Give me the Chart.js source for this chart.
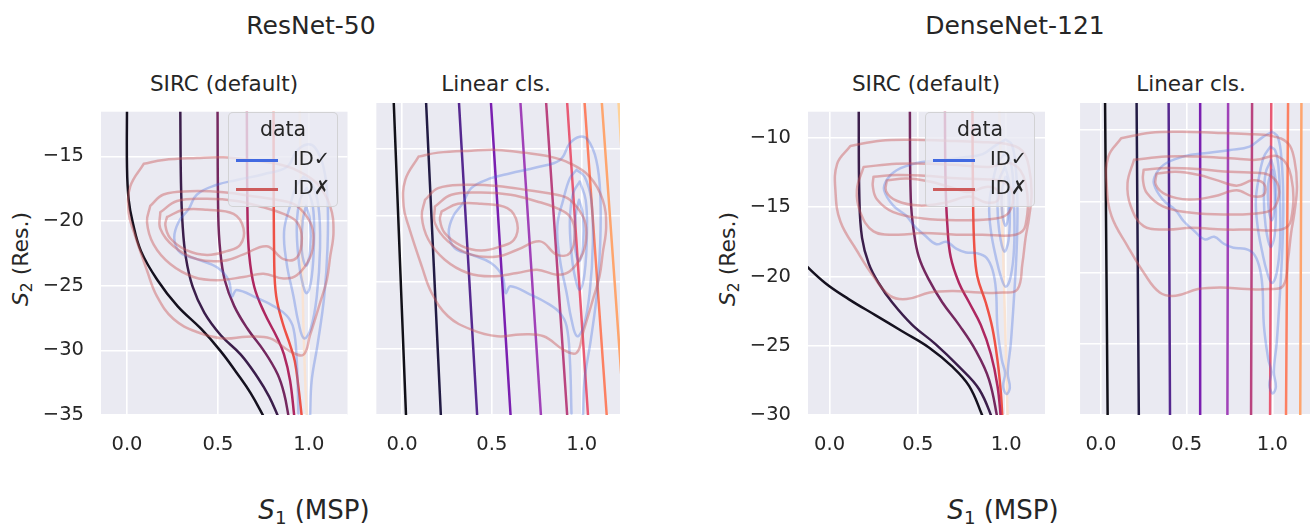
<!DOCTYPE html>
<html>
<head>
<meta charset="utf-8">
<script src="https://cdn.jsdelivr.net/npm/chart.js@4.4.1/dist/chart.umd.min.js"></script>
<style>
  body { margin: 0; width: 1312px; height: 526px; position: relative; overflow: hidden; background: #fff;
         font-family: "DejaVu Sans", sans-serif; color: #262626; }
  canvas { position: absolute; }
  .txt { position: absolute; white-space: nowrap; transform: translate(-50%, -50%); }
  .ylab { transform: translate(-50%, -50%) rotate(-90deg); }
  .legend { position: absolute; width: 110px; height: 95px; box-sizing: border-box;
            background: rgba(234, 234, 242, 0.8); border: 1px solid rgba(204, 204, 204, 0.8); border-radius: 5px; }
  .legend div { position: absolute; white-space: nowrap; }
  .legend .ttl { left: 0; width: 100%; top: 4px; text-align: center; font-size: 20.5px; }
  .legend .ln { left: 7px; width: 42px; height: 2.5px; }
  .legend .lb { left: 64px; font-size: 19.5px; }
  sub { font-size: 0.7em; vertical-align: -0.3em; line-height: 0; }
</style>
</head>
<body>

<div class="txt" style="left:311px;top:25px;font-size:25px">ResNet-50</div>
<div class="txt" style="left:1015px;top:25px;font-size:25px">DenseNet-121</div>

<div class="txt" style="left:224px;top:83px;font-size:21.5px">SIRC (default)</div>
<div class="txt" style="left:496px;top:83px;font-size:21.5px">Linear cls.</div>
<div class="txt" style="left:926px;top:83px;font-size:21.5px">SIRC (default)</div>
<div class="txt" style="left:1191px;top:83px;font-size:21.5px">Linear cls.</div>

<div class="txt ylab" style="left:20px;top:259px;font-size:22px"><i>S</i><sub>2</sub> (Res.)</div>
<div class="txt ylab" style="left:727px;top:259px;font-size:22px"><i>S</i><sub>2</sub> (Res.)</div>

<div class="txt" style="left:314px;top:510px;font-size:26px"><i>S</i><sub>1</sub> (MSP)</div>
<div class="txt" style="left:1003px;top:510px;font-size:26px"><i>S</i><sub>1</sub> (MSP)</div>

<canvas id="p1"></canvas>
<canvas id="p2"></canvas>
<canvas id="p3"></canvas>
<canvas id="p4"></canvas>

<div class="legend" style="left:228px;top:112px">
  <div class="ttl">data</div>
  <div class="ln" style="top:46px;background:#4169e1"></div><div class="lb" style="top:34px">ID✓</div>
  <div class="ln" style="top:75px;background:#cd5c5c"></div><div class="lb" style="top:63px">ID✗</div>
</div>
<div class="legend" style="left:925px;top:112px">
  <div class="ttl">data</div>
  <div class="ln" style="top:46px;background:#4169e1"></div><div class="lb" style="top:34px">ID✓</div>
  <div class="ln" style="top:75px;background:#cd5c5c"></div><div class="lb" style="top:63px">ID✗</div>
</div>

<script>
// axis ranges and ticks
const resRangeX = [-0.143, 1.213];
const resRangeY = [-35, -11.55];
const denseRangeX = [-0.122, 1.22];
const denseRangeY = [-30, -8.1];
const ticksX = [0, 0.5, 1.0];
const resTicksY = [-35, -30, -25, -20, -15];
const denseTicksY = [-30, -25, -20, -15, -10];

// KDE contours of (S1, S2), ResNet-50: correct ID (blue) and misclassified ID (red)
const resCorrect = [
  [[0.943,-34.88],[0.934,-30.83],[0.916,-28.33],[0.879,-27.33],[0.806,-26.58],[0.714,-25.95],[0.604,-25.33],
   [0.577,-25.83],[0.559,-24.58],[0.495,-23.58],[0.385,-22.95],[0.293,-22.45],[0.26,-21.33],[0.284,-20.08],
   [0.339,-19.08],[0.385,-17.95],[0.495,-17.2],[0.604,-16.83],[0.751,-16.38],[0.879,-15.83],[0.934,-14.58],
   [0.989,-14.08],[1.035,-14.33],[1.081,-15.83],[1.103,-18.33],[1.103,-22.08],[1.085,-25.83],[1.048,-29.58],
   [1.016,-32.33],[1.007,-35.2]],
  [[0.971,-16.58],[0.934,-17.2],[0.897,-18.83],[0.864,-20.83],[0.879,-23.33],[0.916,-25.83],[0.943,-27.83],
   [0.974,-29.08],[1.011,-28.33],[1.044,-25.83],[1.062,-22.08],[1.053,-18.83],[1.016,-17.08],[0.971,-16.58]],
  [[0.989,-17.45],[0.952,-18.33],[0.934,-20.33],[0.943,-22.83],[0.962,-24.58],[0.989,-25.58],[1.016,-24.33],
   [1.029,-21.33],[1.022,-18.83],[0.989,-17.45]],
  [[0.985,-18.83],[0.967,-19.95],[0.962,-22.33],[0.985,-23.45],[1.007,-22.33],[1.007,-19.95],[0.985,-18.83]]
];
const resWrong = [
  [[0.092,-15.58],[0.201,-15.28],[0.385,-15.13],[0.531,-15.08],[0.678,-15.28],[0.824,-15.58],[0.934,-16.08],
   [1.044,-17.08],[1.117,-18.83],[1.136,-20.83],[1.117,-22.83],[1.099,-24.58],[1.062,-26.33],[1.007,-28.83],
   [0.971,-30.33],[0.897,-30.08],[0.788,-29.08],[0.659,-28.95],[0.531,-29.08],[0.385,-28.58],[0.256,-27.58],
   [0.165,-25.83],[0.11,-23.83],[0.037,-20.83],[0.009,-19.33],[0.018,-17.33],[0.092,-15.58]],
  [[0.128,-18.83],[0.201,-17.95],[0.348,-17.7],[0.531,-17.78],[0.714,-18.13],[0.861,-18.45],[0.934,-18.83],
   [1.007,-20.08],[1.026,-21.33],[1.007,-22.83],[0.934,-24.2],[0.861,-24.45],[0.751,-24.08],[0.641,-24.33],
   [0.495,-24.58],[0.366,-24.33],[0.238,-23.33],[0.147,-21.83],[0.11,-20.08],[0.128,-18.83]],
  [[0.183,-19.33],[0.275,-18.45],[0.44,-18.28],[0.604,-18.45],[0.751,-18.95],[0.861,-19.45],[0.934,-20.08],
   [0.962,-21.33],[0.934,-22.83],[0.861,-22.95],[0.769,-21.95],[0.641,-22.58],[0.531,-23.08],[0.385,-22.95],
   [0.256,-21.95],[0.183,-20.58],[0.183,-19.33]],
  [[0.22,-19.7],[0.311,-19.13],[0.44,-19.13],[0.586,-19.45],[0.641,-20.58],[0.623,-21.83],[0.549,-22.33],
   [0.44,-22.63],[0.33,-22.28],[0.238,-21.33],[0.211,-20.33],[0.22,-19.7]]
];

// KDE contours, DenseNet-121
const denseCorrect = [
  [[0.998,-10.12],[0.942,-10.51],[0.867,-11.16],[0.755,-11.4],[0.605,-11.63],[0.493,-11.81],[0.38,-12.33],
   [0.324,-13.02],[0.309,-13.77],[0.361,-14.88],[0.436,-15.63],[0.483,-16.4],[0.539,-17.02],[0.605,-17.67],
   [0.661,-17.49],[0.717,-17.98],[0.773,-18.26],[0.839,-18.33],[0.889,-18.65],[0.923,-19.53],[0.942,-20.93],
   [0.951,-23.72],[0.976,-26.05],[0.994,-26.98],[0.983,-27.91],[1.002,-28.49],[1.021,-28.02],[1.009,-26.98],
   [1.026,-24.88],[1.045,-21.4],[1.06,-17.91],[1.064,-14.88],[1.054,-12.09],[1.032,-10.47],[0.998,-10.12]],
  [[0.989,-11.16],[0.951,-11.86],[0.923,-13.26],[0.904,-14.88],[0.914,-16.74],[0.942,-18.6],[0.97,-20.0],
   [0.998,-20.74],[1.026,-20.0],[1.045,-17.91],[1.045,-14.88],[1.036,-12.56],[1.017,-11.44],[0.989,-11.16]],
  [[0.994,-12.09],[0.961,-13.02],[0.951,-14.88],[0.961,-16.74],[0.989,-18.19],[1.013,-17.44],[1.021,-15.35],
   [1.017,-13.26],[0.994,-12.09]],
  [[0.998,-12.79],[0.976,-13.77],[0.979,-15.58],[0.998,-16.33],[1.013,-15.35],[1.011,-13.77],[0.998,-12.79]]
];
const denseWrong = [
  [[0.118,-10.58],[0.287,-10.19],[0.474,-10.12],[0.661,-10.19],[0.848,-10.28],[0.998,-10.42],[1.092,-10.93],
   [1.129,-12.09],[1.144,-13.95],[1.129,-15.81],[1.11,-17.21],[1.092,-19.07],[1.064,-20.93],[0.979,-21.16],
   [0.848,-21.16],[0.699,-21.05],[0.567,-21.16],[0.436,-21.63],[0.343,-21.4],[0.249,-20.0],[0.155,-18.14],
   [0.062,-16.05],[0.034,-13.95],[0.043,-11.86],[0.118,-10.58]],
  [[0.193,-12.09],[0.38,-11.86],[0.567,-11.86],[0.755,-11.98],[0.904,-12.09],[1.036,-11.86],[1.11,-13.26],
   [1.11,-16.28],[1.054,-16.98],[0.867,-16.98],[0.717,-16.98],[0.53,-16.86],[0.38,-16.98],[0.249,-16.74],
   [0.174,-15.35],[0.155,-13.72],[0.193,-12.09]],
  [[0.249,-12.79],[0.38,-12.67],[0.567,-12.74],[0.717,-12.91],[0.867,-12.98],[0.979,-13.14],[1.036,-13.95],
   [1.017,-15.35],[0.942,-15.81],[0.717,-15.93],[0.53,-15.81],[0.361,-15.35],[0.268,-14.42],[0.245,-13.49],
   [0.249,-12.79]],
  [[0.324,-13.07],[0.436,-12.93],[0.567,-13.14],[0.68,-13.53],[0.792,-13.9],[0.886,-13.53],[0.951,-13.77],
   [0.951,-14.53],[0.886,-14.65],[0.792,-14.23],[0.661,-14.65],[0.511,-14.88],[0.38,-14.53],[0.32,-13.84],
   [0.324,-13.07]]
];

// SIRC decision curves (level sets of the combined score)
const resSirc = [
  [[0,-11],[0,-15.83],[0.009,-18.33],[0.031,-20.08],[0.077,-22.33],[0.168,-24.58],[0.278,-26.58],[0.407,-28.33],
   [0.516,-30.08],[0.608,-31.83],[0.681,-33.33],[0.755,-35.2]],
  [[0.293,-11],[0.297,-17.08],[0.306,-20.33],[0.324,-22.83],[0.361,-25.08],[0.425,-27.08],[0.516,-28.83],
   [0.626,-30.33],[0.718,-32.08],[0.782,-33.58],[0.834,-35.2]],
  [[0.498,-11],[0.502,-19.58],[0.513,-22.33],[0.538,-24.58],[0.59,-26.58],[0.663,-28.33],[0.755,-30.08],
   [0.828,-31.83],[0.864,-33.33],[0.89,-35.2]],
  [[0.659,-11],[0.663,-19.58],[0.672,-22.58],[0.70,-25.08],[0.755,-27.08],[0.828,-29.08],[0.864,-30.33],
   [0.897,-32.33],[0.921,-35.2]],
  [[0.806,-11],[0.81,-23.33],[0.821,-25.83],[0.855,-27.83],[0.897,-29.58],[0.923,-30.83],[0.943,-32.83],[0.962,-35.2]],
  [[0.95,-11],[0.96,-20.8],[0.971,-28.3],[0.983,-33.3],[0.99,-35.2]]
];
const denseSirc = [
  [[-0.16,-18.9],[-0.025,-20.47],[0.108,-21.63],[0.259,-22.79],[0.411,-23.95],[0.5625,-25.12],[0.695,-26.51],[0.79,-27.9],[0.862,-29.95],[0.875,-30.5]],
  [[0.165,-7.5],[0.169,-14.42],[0.184,-17.21],[0.222,-19.07],[0.278,-20.47],[0.354,-21.86],[0.468,-23.49],[0.6,-24.88],[0.733,-26.51],[0.847,-28.14],[0.93,-30.5]],
  [[0.4545,-7.5],[0.46,-14.42],[0.477,-16.74],[0.506,-18.6],[0.5625,-20.23],[0.638,-21.86],[0.733,-23.49],[0.828,-25.35],[0.903,-27.44],[0.955,-30.5]],
  [[0.653,-7.5],[0.657,-13.26],[0.667,-16.28],[0.686,-18.6],[0.733,-20.47],[0.79,-21.86],[0.856,-23.49],[0.913,-25.58],[0.951,-27.91],[0.972,-30.5]],
  [[0.809,-7.5],[0.8125,-14.42],[0.82,-17.91],[0.837,-20.0],[0.884,-21.86],[0.922,-23.72],[0.951,-26.05],[0.97,-28.37],[0.98,-30.5]],
  [[0.96,-7.5],[1.009,-30.5]]
];
const sircColors = ['#15111f', '#3b1e4b', '#74285f', '#ae2760', '#ee5146', '#f9e3d3'];

// linear classifier boundaries: S1 where each line meets the top and bottom of the panel
const resLinTop = [-0.046, 0.134, 0.317, 0.495, 0.659, 0.802, 0.919, 1.016, 1.112, 1.205];
const resLinBottom = [0.022, 0.216, 0.418, 0.604, 0.773, 0.919, 1.035, 1.139, 1.236, 1.31];
const denseLinTop = [0.024, 0.208, 0.395, 0.579, 0.742, 0.882, 0.994, 1.092, 1.17];
const denseLinBottom = [0.039, 0.221, 0.403, 0.579, 0.738, 0.876, 0.987, 1.08, 1.163];
const linColors = ['#111018', '#221b44', '#55288f', '#7a1fb0', '#a041b8', '#b9447f', '#e85a74', '#fc8062', '#fea56e', '#fed29a'];

const redLine = 'rgba(205, 92, 92, 0.45)';
const blueLine = 'rgba(65, 105, 225, 0.33)';

function pts(list) {
  return list.map(p => ({x: p[0], y: p[1]}));
}

function contourSets(correct, wrong) {
  let sets = [];
  for (let c of wrong) sets.push({data: pts(c), borderColor: redLine, order: 0});
  for (let c of correct) sets.push({data: pts(c), borderColor: blueLine, order: 0});
  return sets;
}

function sircSets(curves) {
  return curves.map((c, i) => ({data: pts(c), borderColor: sircColors[i], order: 1}));
}

function linSets(top, bottom, yr) {
  return top.map((t, i) => ({
    data: [{x: t, y: yr[1]}, {x: bottom[i], y: yr[0]}],
    borderColor: linColors[i], order: 1, tension: 0
  }));
}

const bgPlugin = {
  id: 'bg',
  beforeDraw(chart) {
    const a = chart.chartArea, ctx = chart.ctx;
    ctx.save();
    ctx.fillStyle = '#eaeaf2';
    ctx.fillRect(a.left, a.top, a.right - a.left, a.bottom - a.top);
    ctx.restore();
  }
};

// box: plot area (l, t, r, b) and canvas edges (cl, ct, cr, cb) in page pixels
function panel(id, box, xr, yr, yTicks, showY, datasets) {
  const cv = document.getElementById(id);
  cv.width = box.cr - box.cl;
  cv.height = box.cb - box.ct;
  cv.style.left = box.cl + 'px';
  cv.style.top = box.ct + 'px';
  const tickFont = {family: 'DejaVu Sans', size: 19.5};
  new Chart(cv, {
    type: 'scatter',
    data: {datasets: datasets},
    options: {
      responsive: false,
      animation: false,
      devicePixelRatio: 1,
      layout: {padding: {top: box.t - box.ct, right: box.cr - box.r, left: 0, bottom: 0}},
      plugins: {legend: {display: false}, tooltip: {enabled: false}},
      elements: {
        point: {radius: 0},
        line: {borderWidth: 2.5, tension: 0.4, fill: false, borderCapStyle: 'round', borderJoinStyle: 'round'}
      },
      datasets: {scatter: {showLine: true, clip: 0}},
      scales: {
        x: {
          type: 'linear', min: xr[0], max: xr[1],
          afterBuildTicks: s => { s.ticks = ticksX.map(v => ({value: v})); },
          afterFit: s => { s.height = box.cb - box.b; },
          grid: {color: '#ffffff', lineWidth: 1.6, drawTicks: false},
          border: {display: false},
          ticks: {padding: 18, color: '#262626', font: tickFont, callback: v => v.toFixed(1)}
        },
        y: {
          type: 'linear', min: yr[0], max: yr[1],
          afterBuildTicks: s => { s.ticks = yTicks.map(v => ({value: v})); },
          afterFit: s => { s.width = box.l - box.cl; },
          grid: {color: '#ffffff', lineWidth: 1.6, drawTicks: false},
          border: {display: false},
          ticks: {display: showY, padding: 17, color: '#262626', font: tickFont,
                  callback: v => (v < 0 ? '\u2212' + Math.abs(v) : String(v))}
        }
      }
    },
    plugins: [bgPlugin]
  });
}

panel('p1', {l: 101, t: 103, r: 347.5, b: 415, cl: 30, ct: 83, cr: 350, cb: 470},
      resRangeX, resRangeY, resTicksY, true,
      contourSets(resCorrect, resWrong).concat(sircSets(resSirc)));
panel('p2', {l: 373, t: 103, r: 620, b: 415, cl: 368, ct: 83, cr: 623, cb: 470},
      resRangeX, resRangeY, resTicksY, false,
      contourSets(resCorrect, resWrong).concat(linSets(resLinTop, resLinBottom, resRangeY)));
panel('p3', {l: 808, t: 103, r: 1045, b: 415, cl: 740, ct: 83, cr: 1048, cb: 470},
      denseRangeX, denseRangeY, denseTicksY, true,
      contourSets(denseCorrect, denseWrong).concat(sircSets(denseSirc)));
panel('p4', {l: 1072, t: 103, r: 1310, b: 415, cl: 1067, ct: 83, cr: 1312, cb: 470},
      denseRangeX, denseRangeY, denseTicksY, false,
      contourSets(denseCorrect, denseWrong).concat(linSets(denseLinTop, denseLinBottom, denseRangeY)));
</script>
</body>
</html>
